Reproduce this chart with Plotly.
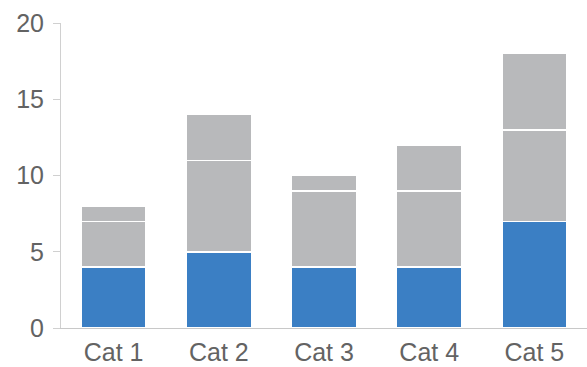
import plotly.graph_objects as go

categories = ["Cat 1", "Cat 2", "Cat 3", "Cat 4", "Cat 5"]
series_a = [4, 5, 4, 4, 7]
series_b = [3, 6, 5, 5, 6]
series_c = [1, 3, 1, 3, 5]
y_ticks = [0, 5, 10, 15, 20]

colors = ["#3b7fc4", "#b8b9bb", "#b8b9bb"]

fig = go.Figure()
for vals, c in zip([series_a, series_b, series_c], colors):
    fig.add_trace(go.Bar(x=categories, y=vals, marker=dict(color=c, line=dict(color="white", width=1.5))))

fig.update_layout(
    barmode="stack",
    bargap=0.38,
    width=587, height=367,
    margin=dict(l=61, r=0, t=23, b=39),
    plot_bgcolor="white", paper_bgcolor="white",
    showlegend=False,
    font=dict(family="Liberation Sans, Arial, sans-serif", size=25, color="#636363"),
)
fig.update_yaxes(range=[0, 20], tickvals=y_ticks, showgrid=False, zeroline=False,
                 showline=True, linecolor="#d0d0d0", linewidth=1, automargin=False,
                 ticks="outside", ticklen=7, tickcolor="#d0d0d0", ticklabelstandoff=4,
                 tickfont=dict(size=25))
fig.update_xaxes(showline=True, linecolor="#c8c8c8", linewidth=1, ticks="", showgrid=False,
                 automargin=False, tickfont=dict(size=25), ticklabelstandoff=2)

fig.write_html("out.html")
